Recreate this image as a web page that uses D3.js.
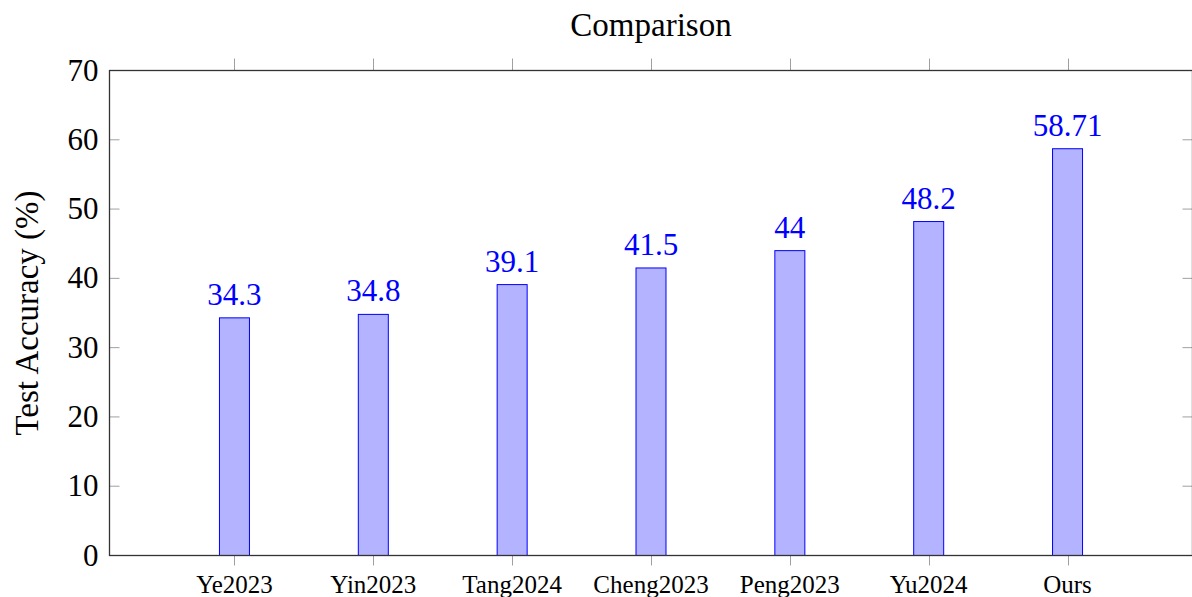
<!DOCTYPE html>
<html><head><meta charset="utf-8">
<script src="https://cdn.jsdelivr.net/npm/d3@7"></script>
<style>body{margin:0;background:#fff}svg{display:block}</style>
</head><body><svg id="c" width="1192" height="597" font-family="Liberation Serif"></svg>
<script>
const categories = ["Ye2023","Yin2023","Tang2024","Cheng2023","Peng2023","Yu2024","Ours"];
const values = [34.3,34.8,39.1,41.5,44,48.2,58.71];
const valueLabels = ["34.3","34.8","39.1","41.5","44","48.2","58.71"];
const yTicks = [0,10,20,30,40,50,60,70];

const svg = d3.select("#c");
const L=109.5, R=1192.5, T=70.5, B=555.5;
const x = d3.scaleLinear().domain([-0.9, categories.length-1+0.9]).range([L,R]);
const y = d3.scaleLinear().domain([0,70]).range([B,T]);
const bw = 30;

// bars
svg.append("g").selectAll("rect").data(values).join("rect")
  .attr("x",(d,i)=>x(i)-bw/2).attr("y",d=>y(d))
  .attr("width",bw).attr("height",d=>y(0)-y(d))
  .attr("fill","#b3b3ff").attr("stroke","#0000ff").attr("stroke-width",1);

// value labels
svg.append("g").selectAll("text").data(values).join("text")
  .attr("x",(d,i)=>x(i)).attr("y",d=>y(d)-13)
  .attr("text-anchor","middle").attr("fill","#0000ff").attr("font-size",31)
  .attr("font-family","Liberation Serif")
  .text((d,i)=>valueLabels[i]);

// ticks
const tickColor="#a0a0a0";
const g=svg.append("g");
yTicks.forEach(t=>{
  g.append("line").attr("x1",L).attr("x2",L+10).attr("y1",y(t)).attr("y2",y(t)).attr("stroke",tickColor);
  g.append("line").attr("x1",R-10).attr("x2",R).attr("y1",y(t)).attr("y2",y(t)).attr("stroke",tickColor);
});
categories.forEach((c,i)=>{
  const xi=Math.round(x(i))+0.5;
  g.append("line").attr("x1",xi).attr("x2",xi).attr("y1",B).attr("y2",B+10).attr("stroke",tickColor);
  g.append("line").attr("x1",xi).attr("x2",xi).attr("y1",T-12).attr("y2",T).attr("stroke",tickColor);
});

// frame
svg.append("rect").attr("x",L).attr("y",T).attr("width",R-L).attr("height",B-T)
  .attr("fill","none").attr("stroke","#333").attr("stroke-width",1.3);

// y tick labels
svg.append("g").selectAll("text").data(yTicks).join("text")
  .attr("x",L-11).attr("y",d=>y(d)+10).attr("text-anchor","end")
  .attr("font-family","Liberation Serif")
  .attr("font-size",31).attr("fill","#000").text(d=>d);

// x tick labels
svg.append("g").selectAll("text").data(categories).join("text")
  .attr("x",(d,i)=>x(i)).attr("y",593).attr("text-anchor","middle")
  .attr("font-family","Liberation Serif")
  .attr("font-size",25).attr("fill","#000").text(d=>d);

// title
svg.append("text").attr("x",(L+R)/2).attr("y",36).attr("text-anchor","middle")
  .attr("font-family","Liberation Serif")
  .attr("font-size",33).text("Comparison");

// y label
svg.append("text").attr("transform",`translate(38,${(T+B)/2}) rotate(-90)`)
  .attr("font-family","Liberation Serif")
  .attr("text-anchor","middle").attr("font-size",33).text("Test Accuracy (%)");
</script></body></html>
